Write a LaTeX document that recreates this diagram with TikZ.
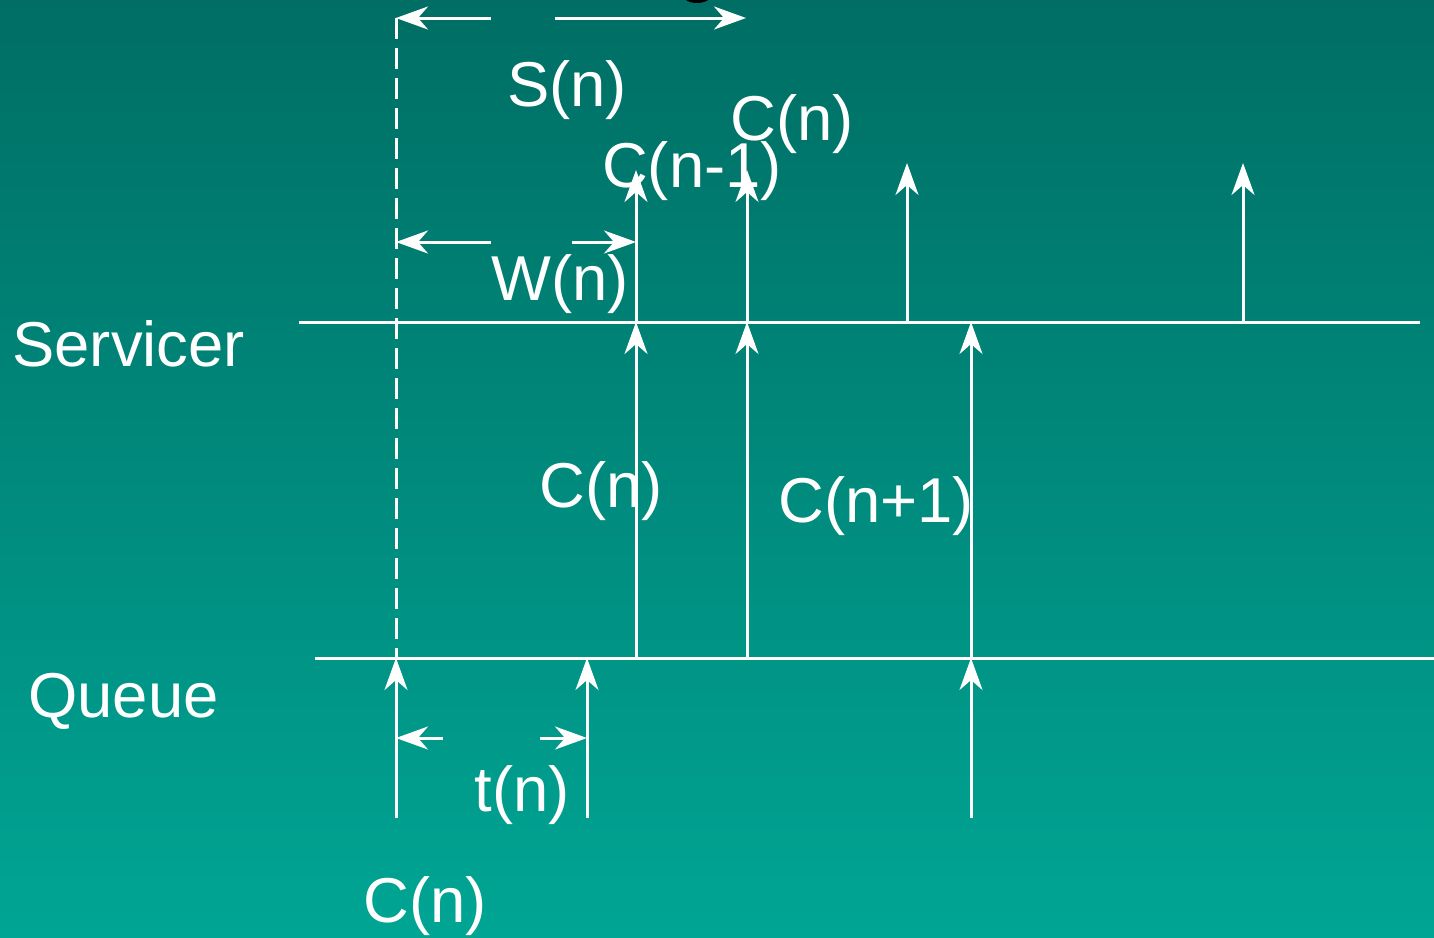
\documentclass[tikz,border=0pt]{standalone}
\usepackage{fontspec}
\setmainfont{Liberation Sans}
\usetikzlibrary{arrows.meta}
\definecolor{bgtop}{RGB}{0,110,100}
\definecolor{bgbot}{RGB}{0,165,148}
\begin{document}
\begin{tikzpicture}[x=0.5pt,y=-0.5pt,
  ln/.style={white,line width=1.5pt},
  arr/.style={ln,-{Stealth[length=16pt,width=11.5pt,inset=5pt]}},
  lbl/.style={text=white,font=\fontsize{31.7}{36}\selectfont,inner sep=0pt}]
\useasboundingbox (0,0) rectangle (1434,937);
\shade[top color=bgtop,bottom color=bgbot] (0,0) rectangle (1434,937);
% fragment of a cut-off glyph at the top edge
\fill[black] (697,-9) ellipse [x radius=17, y radius=12];
% coordinates
\coordinate (sL) at (299,322); \coordinate (sR) at (1420,322);
\coordinate (qL) at (315,658); \coordinate (qR) at (1434,658);
\coordinate (dT) at (396,18);  \coordinate (dB) at (396,658);
\coordinate (sa1) at (491,18); \coordinate (sa2) at (555,18); \coordinate (sa3) at (746,18);
\coordinate (wa1) at (491,242); \coordinate (wa2) at (572,242); \coordinate (wa3) at (636,242); \coordinate (wa0) at (396,242);
\coordinate (ta0) at (396,738); \coordinate (ta1) at (443,738); \coordinate (ta2) at (540,738); \coordinate (ta3) at (587,738);
\coordinate (u1b) at (636,322); \coordinate (u1t) at (636,170);
\coordinate (u2b) at (747,322); \coordinate (u2t) at (747,170);
\coordinate (u3b) at (907,322); \coordinate (u3t) at (907,163);
\coordinate (u4b) at (1243,322); \coordinate (u4t) at (1243,163);
\coordinate (m1b) at (636,658); \coordinate (m1t) at (636,322);
\coordinate (m2b) at (747,658); \coordinate (m2t) at (747,322);
\coordinate (m3b) at (971,818); \coordinate (m3q) at (971,658); \coordinate (m3t) at (971,322);
\coordinate (a1b) at (396,818); \coordinate (a1t) at (396,658);
\coordinate (a2b) at (587,818); \coordinate (a2t) at (587,658);
% axes
\draw[ln] (sL) -- (sR);
\draw[ln] (qL) -- (qR);
\draw[ln,dash pattern=on 10.5pt off 4.5pt] (dT) -- (dB);
% dimension arrows
\draw[arr] (sa1) -- (dT);
\draw[arr] (sa2) -- (sa3);
\draw[arr] (wa1) -- (wa0);
\draw[arr] (wa2) -- (wa3);
\draw[arr] (ta1) -- (ta0);
\draw[arr] (ta2) -- (ta3);
% departures
\draw[arr] (u1b) -- (u1t);
\draw[arr] (u2b) -- (u2t);
\draw[arr] (u3b) -- (u3t);
\draw[arr] (u4b) -- (u4t);
% queue to servicer
\draw[arr] (m1b) -- (m1t);
\draw[arr] (m2b) -- (m2t);
\draw[arr] (m3b) -- (m3q);
\draw[arr] (m3q) -- (m3t);
% arrivals
\draw[arr] (a1b) -- (a1t);
\draw[arr] (a2b) -- (a2t);
% labels
\node[lbl] (lS) at (567,90) {S(n)};
\node[lbl] (lCt) at (792,124) {C(n)};
\node[lbl] (lCm1) at (692,171) {C(n-1)};
\node[lbl] (lW) at (560,284) {W(n)};
\node[lbl,anchor=base west] (lServ) at (12,366) {Servicer};
\node[lbl,anchor=base west] (lQ) at (28,717) {Queue};
\node[lbl] (lCm) at (601,491) {C(n)};
\node[lbl] (lCp1) at (876,506) {C(n+1)};
\node[lbl] (lt) at (522,795) {t(n)};
\node[lbl] (lCb) at (425,906) {C(n)};
\end{tikzpicture}
\end{document}
